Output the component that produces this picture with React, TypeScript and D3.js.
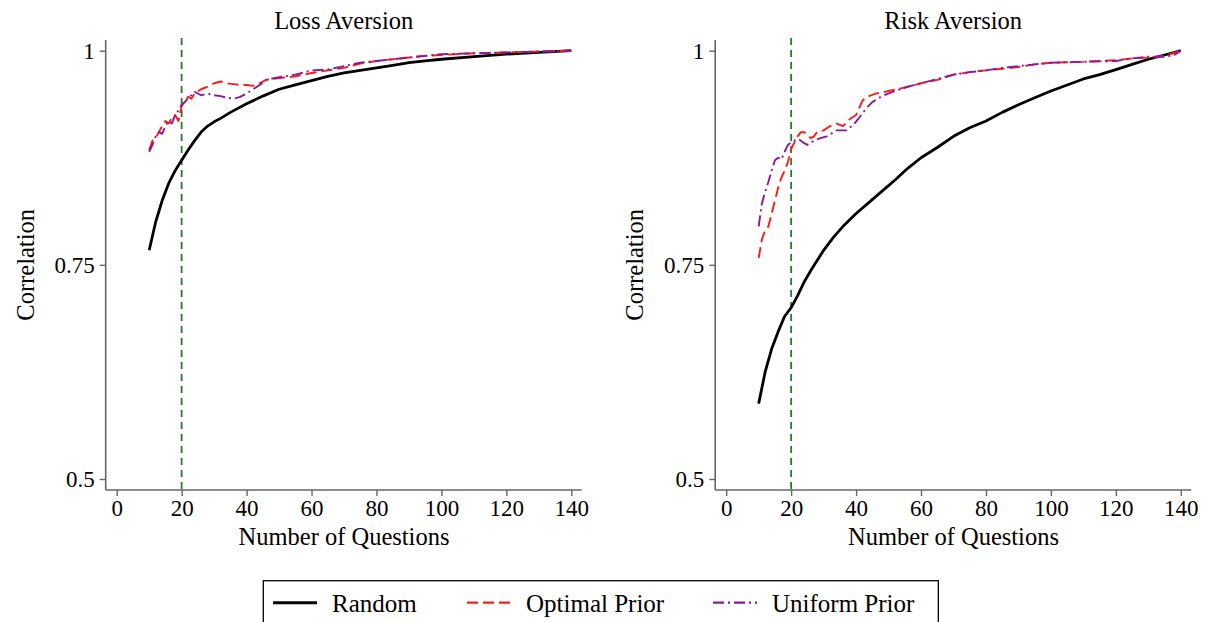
import React, { useEffect, useRef } from "react";
import * as d3 from "d3";

// correlation by number of questions
const lossRandom = [
  [10, 0.767], [12, 0.8], [14, 0.825], [16, 0.845], [18, 0.86], [20, 0.872], [22, 0.884],
  [24, 0.895], [26, 0.905], [28, 0.912], [30, 0.917], [32, 0.921], [35, 0.928], [40, 0.938],
  [45, 0.947], [50, 0.955], [55, 0.96], [60, 0.965], [65, 0.97], [70, 0.974], [75, 0.977],
  [80, 0.98], [85, 0.983], [90, 0.986], [95, 0.988], [100, 0.99], [110, 0.993], [120, 0.996],
  [130, 0.998], [140, 1.0],
];
const lossOptimal = [
  [10, 0.884], [11, 0.895], [12, 0.898], [13, 0.905], [14, 0.912], [15, 0.918], [16, 0.915],
  [17, 0.922], [18, 0.925], [19, 0.918], [20, 0.935], [21, 0.942], [22, 0.946], [23, 0.944],
  [24, 0.95], [26, 0.955], [28, 0.958], [30, 0.962], [32, 0.964], [34, 0.962], [36, 0.961],
  [38, 0.96], [40, 0.96], [42, 0.959], [44, 0.962], [46, 0.966], [50, 0.968], [55, 0.97],
  [60, 0.974], [65, 0.977], [70, 0.98], [75, 0.985], [80, 0.988], [85, 0.99], [90, 0.992],
  [95, 0.994], [100, 0.995], [110, 0.997], [120, 0.998], [130, 0.999], [140, 1.0],
];
const lossUniform = [
  [10, 0.882], [11, 0.89], [12, 0.9], [13, 0.905], [14, 0.903], [15, 0.912], [16, 0.918],
  [17, 0.915], [18, 0.925], [19, 0.93], [20, 0.937], [21, 0.94], [22, 0.945], [23, 0.948],
  [24, 0.952], [25, 0.95], [26, 0.948], [28, 0.95], [30, 0.948], [32, 0.947], [34, 0.945],
  [36, 0.944], [38, 0.946], [40, 0.95], [42, 0.955], [44, 0.96], [46, 0.966], [50, 0.969],
  [55, 0.972], [60, 0.977], [65, 0.978], [70, 0.982], [75, 0.986], [80, 0.988], [85, 0.99],
  [90, 0.992], [95, 0.994], [100, 0.996], [110, 0.997], [120, 0.998], [130, 0.999], [140, 1.0],
];
const riskRandom = [
  [10, 0.588], [12, 0.625], [14, 0.652], [16, 0.672], [18, 0.69], [20, 0.7], [22, 0.714],
  [24, 0.73], [26, 0.743], [28, 0.755], [30, 0.767], [33, 0.782], [36, 0.795], [40, 0.81],
  [44, 0.823], [48, 0.836], [52, 0.849], [56, 0.863], [60, 0.875], [65, 0.887], [70, 0.9],
  [75, 0.91], [80, 0.918], [85, 0.928], [90, 0.937], [95, 0.945], [100, 0.953], [105, 0.96],
  [110, 0.967], [115, 0.972], [120, 0.978], [125, 0.984], [130, 0.99], [135, 0.995], [140, 1.0],
];
const riskOptimal = [
  [10, 0.758], [11, 0.78], [12, 0.79], [13, 0.795], [14, 0.81], [15, 0.825], [16, 0.84],
  [17, 0.852], [18, 0.86], [19, 0.87], [20, 0.885], [21, 0.893], [22, 0.9], [23, 0.905],
  [24, 0.905], [25, 0.902], [26, 0.898], [27, 0.9], [28, 0.905], [30, 0.907], [32, 0.912],
  [34, 0.915], [36, 0.912], [38, 0.92], [40, 0.925], [42, 0.942], [44, 0.947], [46, 0.95],
  [48, 0.951], [50, 0.953], [55, 0.957], [60, 0.962], [65, 0.966], [70, 0.972], [75, 0.975],
  [80, 0.977], [85, 0.979], [90, 0.981], [95, 0.984], [100, 0.986], [110, 0.987], [120, 0.989],
  [125, 0.991], [130, 0.992], [135, 0.994], [140, 1.0],
];
const riskUniform = [
  [10, 0.795], [11, 0.822], [12, 0.835], [13, 0.847], [14, 0.86], [15, 0.872], [16, 0.875],
  [17, 0.873], [18, 0.882], [19, 0.89], [20, 0.893], [21, 0.895], [22, 0.897], [23, 0.895],
  [24, 0.892], [25, 0.89], [27, 0.895], [29, 0.898], [31, 0.9], [34, 0.907], [37, 0.907],
  [39, 0.913], [41, 0.922], [43, 0.932], [45, 0.94], [48, 0.947], [52, 0.953], [56, 0.958],
  [60, 0.962], [65, 0.967], [70, 0.972], [75, 0.975], [80, 0.977], [85, 0.98], [90, 0.982],
  [95, 0.984], [100, 0.986], [110, 0.987], [120, 0.988], [125, 0.991], [130, 0.993],
  [135, 0.993], [138, 0.995], [140, 1.0],
];

const xTicks = [0, 20, 40, 60, 80, 100, 120, 140];
const yTicks = [0.5, 0.75, 1];
const cutoff = 20;

const panels = [
  { title: "Loss Aversion", random: lossRandom, optimal: lossOptimal, uniform: lossUniform },
  { title: "Risk Aversion", random: riskRandom, optimal: riskOptimal, uniform: riskUniform },
];

const legendItems = [
  { label: "Random", color: "#000", dash: null, width: 2.8 },
  { label: "Optimal Prior", color: "#ff1a1a", dash: "11,5", width: 1.9 },
  { label: "Uniform Prior", color: "#8b1a9b", dash: "11,4,2,4", width: 1.9 },
];

const FONT = "'Liberation Serif', 'Times New Roman', serif";
const AXIS = "#666";

export default function App() {
  const ref = useRef<SVGSVGElement>(null);

  useEffect(() => {
    document.body.style.margin = "0";
    const svg = d3.select(ref.current);
    svg.selectAll("*").remove();

    panels.forEach((p, i) => {
      const dx = i * 609.5;
      const x = d3.scaleLinear().domain([0, 140]).range([116.7 + dx, 571.3 + dx]);
      const y = d3.scaleLinear().domain([0.5, 1]).range([479, 50.7]);
      const left = 105.7 + dx;
      const bottom = 490;

      const g = svg.append("g").attr("font-family", FONT);

      g.append("text")
        .attr("x", (left + 581.7 + dx) / 2)
        .attr("y", 29)
        .attr("text-anchor", "middle")
        .attr("font-size", 24.5)
        .text(p.title);

      // axis lines
      g.append("line")
        .attr("x1", left).attr("x2", left)
        .attr("y1", 40).attr("y2", bottom)
        .attr("stroke", AXIS).attr("stroke-width", 1.6);
      g.append("line")
        .attr("x1", left).attr("x2", 581.7 + dx)
        .attr("y1", bottom).attr("y2", bottom)
        .attr("stroke", AXIS).attr("stroke-width", 1.6);

      const ya = g.append("g")
        .attr("transform", `translate(${left},0)`)
        .call(d3.axisLeft(y).tickValues(yTicks).tickSize(6).tickPadding(5).tickFormat(d3.format("")));
      ya.select(".domain").remove();
      ya.attr("font-family", FONT).attr("font-size", 23);
      ya.selectAll("line").attr("stroke", AXIS).attr("stroke-width", 1.4);
      ya.selectAll("text").attr("fill", "#000");

      const xa = g.append("g")
        .attr("transform", `translate(0,${bottom})`)
        .call(d3.axisBottom(x).tickValues(xTicks).tickSize(6).tickPadding(4).tickFormat(d3.format("")));
      xa.select(".domain").remove();
      xa.attr("font-family", FONT).attr("font-size", 23);
      xa.selectAll("line").attr("stroke", AXIS).attr("stroke-width", 1.4);
      xa.selectAll("text").attr("fill", "#000");

      g.append("text")
        .attr("x", x(70))
        .attr("y", 545)
        .attr("text-anchor", "middle")
        .attr("font-size", 24.5)
        .text("Number of Questions");

      g.append("text")
        .attr("transform", `translate(${33.5 + dx},${y(0.75)}) rotate(-90)`)
        .attr("text-anchor", "middle")
        .attr("font-size", 24.5)
        .text("Correlation");

      // cutoff marker
      g.append("line")
        .attr("x1", x(cutoff)).attr("x2", x(cutoff))
        .attr("y1", 38).attr("y2", bottom)
        .attr("stroke", "#2a7a2a").attr("stroke-width", 1.8)
        .attr("stroke-dasharray", "7,5");

      const line = d3.line<number[]>().x((d) => x(d[0])).y((d) => y(d[1]));
      const series = [p.random, p.optimal, p.uniform];
      series.forEach((s, k) => {
        const it = legendItems[k];
        g.append("path")
          .attr("d", line(s))
          .attr("fill", "none")
          .attr("stroke", it.color)
          .attr("stroke-width", it.width)
          .attr("stroke-linejoin", "round")
          .attr("stroke-dasharray", it.dash);
      });
    });

    // legend
    const lg = svg.append("g").attr("font-family", FONT);
    lg.append("rect")
      .attr("x", 263.3).attr("y", 580.7)
      .attr("width", 675).attr("height", 60)
      .attr("fill", "none").attr("stroke", "#000").attr("stroke-width", 1.3);
    const lx = [273, 467, 713];
    legendItems.forEach((it, k) => {
      lg.append("line")
        .attr("x1", lx[k]).attr("x2", lx[k] + 44)
        .attr("y1", 602.7).attr("y2", 602.7)
        .attr("stroke", it.color)
        .attr("stroke-width", k === 0 ? 3 : 2.2)
        .attr("stroke-dasharray", it.dash);
      lg.append("text")
        .attr("x", lx[k] + 59)
        .attr("y", 612)
        .attr("font-size", 25)
        .text(it.label);
    });
  }, []);

  return <svg ref={ref} width={1213} height={622} style={{ display: "block", background: "#fff" }} />;
}
